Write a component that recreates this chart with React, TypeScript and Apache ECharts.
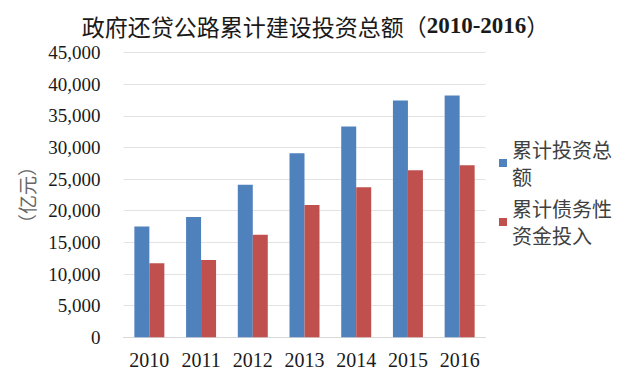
import React, { useEffect, useRef } from "react";
import * as echarts from "echarts";

const categories = ["2010", "2011", "2012", "2013", "2014", "2015", "2016"];
const totalInvestment = [17500, 19000, 24100, 29100, 33300, 37400, 38200];
const debtFunding = [11700, 12200, 16200, 20900, 23700, 26400, 27200];
const seriesNames = ["累计投资总额", "累计债务性资金投入"];
const titleText = "政府还贷公路累计建设投资总额";
const yAxisName = "（亿元）";

export default function App() {
  const ref = useRef<HTMLDivElement>(null);
  useEffect(() => {
    if (!ref.current) return;
    const chart = echarts.init(ref.current, null, { renderer: "svg" });
    chart.setOption({
      animation: false,
      backgroundColor: "#ffffff",
      title: {
        text: `{a|${titleText}（}{b|2010-2016}{a|）}`,
        left: "center",
        top: 9,
        textStyle: {
          rich: {
            a: { fontSize: 23, fontFamily: "'Noto Sans CJK SC'", color: "#1a1a1a", fontWeight: "normal" },
            b: { fontSize: 23, fontFamily: "'Liberation Serif', serif", color: "#1a1a1a", fontWeight: "bold" },
          },
        },
      },
      grid: { left: 123.5, right: 145.5, top: 52.5, bottom: 36.7, containLabel: false },
      legend: {
        orient: "vertical",
        left: 499,
        top: 122.5,
        padding: 0,
        itemWidth: 8,
        itemHeight: 8,
        itemGap: -22,
        icon: "rect",
        data: seriesNames,
        formatter: (name: string) => (name.length > 5 ? name.slice(0, 5) + "\n" + name.slice(5) : name),
        textStyle: {
          fontSize: 20,
          fontFamily: "'Noto Sans CJK SC', sans-serif",
          color: "#404040",
          lineHeight: 27,
          padding: [27, 0, 0, 0],
        },
      },
      xAxis: {
        type: "category",
        data: categories,
        axisTick: { show: false },
        axisLine: { lineStyle: { color: "#d9d9d9", width: 1 } },
        axisLabel: {
          interval: 0,
          fontSize: 20,
          fontFamily: "'Liberation Serif', serif",
          color: "#1a1a1a",
          margin: 13,
        },
      },
      yAxis: {
        type: "value",
        min: 0,
        max: 45000,
        interval: 5000,
        name: yAxisName,
        nameLocation: "middle",
        nameRotate: 90,
        nameGap: 88,
        nameTextStyle: {
          fontSize: 19,
          fontFamily: "'Noto Sans CJK SC'",
          color: "#666666",
        },
        axisLine: { show: false },
        axisTick: { show: false },
        splitLine: { lineStyle: { color: "#e3e3e3", width: 1 } },
        axisLabel: {
          fontSize: 19,
          fontFamily: "'Liberation Serif', serif",
          color: "#1a1a1a",
          margin: 23,
          formatter: (v: number) => v.toLocaleString("en-US"),
        },
      },
      series: [
        {
          name: seriesNames[0],
          type: "bar",
          data: totalInvestment,
          barGap: "0%",
          barCategoryGap: "42%",
          itemStyle: { color: "#4F81BD" },
        },
        {
          name: seriesNames[1],
          type: "bar",
          data: debtFunding,
          barGap: "0%",
          barCategoryGap: "42%",
          itemStyle: { color: "#C0504D" },
        },
      ],
    });
    return () => chart.dispose();
  }, []);
  return (
    <div
      ref={ref}
      style={{ position: "fixed", left: 0, top: 0, width: 631, height: 374, background: "#fff" }}
    />
  );
}
